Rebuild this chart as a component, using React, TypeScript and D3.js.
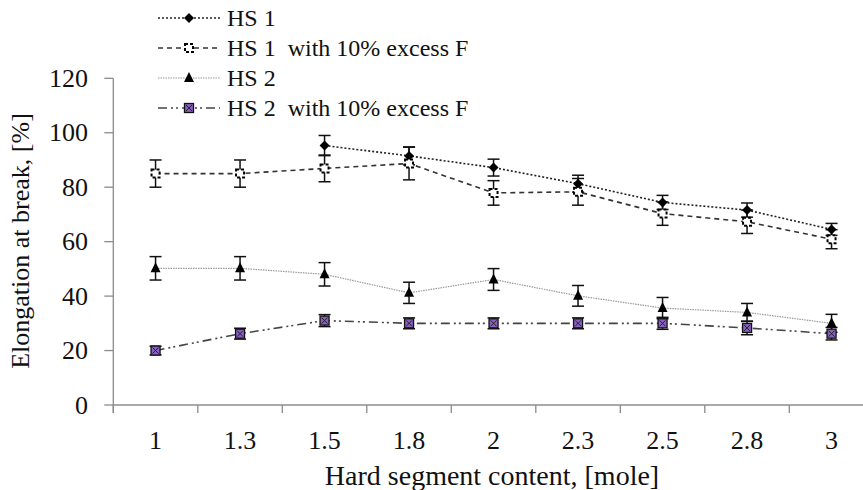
import React from "react";
import * as d3 from "d3";

const categories = ["1", "1.3", "1.5", "1.8", "2", "2.3", "2.5", "2.8", "3"];
const yTicks = [0, 20, 40, 60, 80, 100, 120];

// HS 1 starts at 1.5
const hs1Cats = ["1.5", "1.8", "2", "2.3", "2.5", "2.8", "3"];
const hs1Values = [95.3, 91.5, 87.2, 81.3, 74.4, 71.6, 64.5];
const hs1Errors = [3.7, 3.3, 3.1, 3.1, 2.6, 2.6, 2.2];

const hs1xValues = [85, 85, 86.9, 88.7, 77.9, 78.3, 70.3, 67.3, 60.9];
const hs1xErrors = [5, 5, 4.9, 6, 4.5, 4.9, 4.3, 4.3, 3.5];

const hs2Values = [50.2, 50.2, 48, 41.2, 46.1, 40.1, 35.6, 34, 30];
const hs2Errors = [4.3, 4.3, 4.3, 3.9, 4, 3.8, 3.9, 3.3, 3.3];

const hs2xValues = [20, 26.2, 31, 30, 30, 30, 30, 28.3, 26.2];
const hs2xErrors = [1.6, 2, 2.2, 2, 2, 2, 2.2, 2.5, 2.3];

const legendLabels = ["HS 1", "HS 1  with 10% excess F", "HS 2", "HS 2  with 10% excess F"];

const W = 863;
const H = 490;
const FONT = "'Liberation Serif', 'Times New Roman', serif";

type Pt = { c: string; v: number; e: number };

function zip(cats: string[], vals: number[], errs: number[]): Pt[] {
  return cats.map((c, i) => ({ c, v: vals[i], e: errs[i] }));
}

const series = [
  { key: "hs1", data: zip(hs1Cats, hs1Values, hs1Errors), stroke: "#222", width: 1.6, dash: "2,2", marker: "diamond" },
  { key: "hs1x", data: zip(categories, hs1xValues, hs1xErrors), stroke: "#333", width: 1.6, dash: "5,4", marker: "hollow" },
  { key: "hs2", data: zip(categories, hs2Values, hs2Errors), stroke: "#999", width: 1.2, dash: "1.5,1", marker: "triangle" },
  { key: "hs2x", data: zip(categories, hs2xValues, hs2xErrors), stroke: "#444", width: 1.6, dash: "9,4,2,3,2,4", marker: "xsquare" },
];

function Marker({ type, x, y }: { type: string; x: number; y: number }) {
  if (type === "diamond") {
    const s = 5;
    return <path d={`M${x},${y - s}L${x + s},${y}L${x},${y + s}L${x - s},${y}Z`} fill="#000" />;
  }
  if (type === "triangle") {
    const s = 5;
    return <path d={`M${x},${y - s - 1}L${x + s},${y + s - 1}L${x - s},${y + s - 1}Z`} fill="#000" />;
  }
  if (type === "hollow") {
    return (
      <rect x={x - 4} y={y - 4} width={8} height={8} fill="#fff" stroke="#000" strokeWidth={2} strokeDasharray="3,2" />
    );
  }
  // xsquare
  return (
    <g>
      <rect x={x - 4.5} y={y - 4.5} width={9} height={9} fill="#8a5fc4" stroke="#111" strokeWidth={1.3} />
      <path d={`M${x - 3},${y - 3}L${x + 3},${y + 3}M${x + 3},${y - 3}L${x - 3},${y + 3}`} stroke="#222" strokeWidth={1} />
    </g>
  );
}

export default function App() {
  const left = 113.3;
  const band = 84.5;
  const x = d3.scaleBand<string>().domain(categories).range([left, left + band * categories.length]).padding(0);
  const y = d3.scaleLinear().domain([0, 120]).range([405, 78.3]);
  const cx = (c: string) => (x(c) as number) + x.bandwidth() / 2;

  const line = d3
    .line<Pt>()
    .x((d) => cx(d.c))
    .y((d) => y(d.v));

  const axisColor = "#8c8c8c";
  const capW = 6;

  return (
    <div style={{ position: "fixed", left: 0, top: 0, width: W, height: H, background: "#fff" }}>
      <svg width={W} height={H} style={{ display: "block" }} fontFamily={FONT}>
        <rect width={W} height={H} fill="#fff" />
        {/* axes */}
        <line x1={left} x2={left} y1={y(120)} y2={y(0) + 8} stroke={axisColor} strokeWidth={1.3} />
        <line x1={left} x2={left + band * categories.length} y1={y(0)} y2={y(0)} stroke={axisColor} strokeWidth={1.3} />
        {yTicks.map((t) => (
          <g key={t}>
            <line x1={left - 9} x2={left} y1={y(t)} y2={y(t)} stroke={axisColor} strokeWidth={1.3} />
            <text x={88} y={y(t)} textAnchor="end" dominantBaseline="central" fontSize={26} fill="#111">
              {t}
            </text>
          </g>
        ))}
        {categories.map((c, i) => (
          <line key={"t" + i} x1={x(c) as number} x2={x(c) as number} y1={y(0)} y2={y(0) + 8} stroke={axisColor} strokeWidth={1.3} />
        ))}
        {categories.map((c) => (
          <text key={"l" + c} x={cx(c)} y={449} textAnchor="middle" fontSize={26} fill="#111">
            {c}
          </text>
        ))}
        <text x={492} y={485} textAnchor="middle" fontSize={28} fill="#111">
          Hard segment content, [mole]
        </text>
        <text
          transform={`translate(29,${241}) rotate(-90)`}
          textAnchor="middle"
          fontSize={26}
          fill="#111"
        >
          Elongation at break, [%]
        </text>

        {/* series lines */}
        {series.map((s) => (
          <path key={s.key} d={line(s.data) as string} fill="none" stroke={s.stroke} strokeWidth={s.width} strokeDasharray={s.dash} />
        ))}
        {/* error bars */}
        {series.map((s) =>
          s.data.map((d, i) => (
            <g key={s.key + "e" + i} stroke="#111" strokeWidth={1.5}>
              <line x1={cx(d.c)} x2={cx(d.c)} y1={y(d.v - d.e)} y2={y(d.v + d.e)} />
              <line x1={cx(d.c) - capW} x2={cx(d.c) + capW} y1={y(d.v - d.e)} y2={y(d.v - d.e)} />
              <line x1={cx(d.c) - capW} x2={cx(d.c) + capW} y1={y(d.v + d.e)} y2={y(d.v + d.e)} />
            </g>
          ))
        )}
        {/* markers */}
        {series.map((s) => s.data.map((d, i) => <Marker key={s.key + "m" + i} type={s.marker} x={cx(d.c)} y={y(d.v)} />))}

        {/* legend */}
        {series.map((s, i) => {
          const ly = 18 + i * 30;
          return (
            <g key={"lg" + s.key}>
              <line x1={158} x2={220} y1={ly} y2={ly} stroke={s.stroke} strokeWidth={s.width} strokeDasharray={s.dash} />
              <Marker type={s.marker} x={189} y={ly} />
              <text x={227} y={ly} dominantBaseline="central" fontSize={24} fill="#111" style={{ whiteSpace: "pre" }}>
                {legendLabels[i]}
              </text>
            </g>
          );
        })}
      </svg>
    </div>
  );
}
